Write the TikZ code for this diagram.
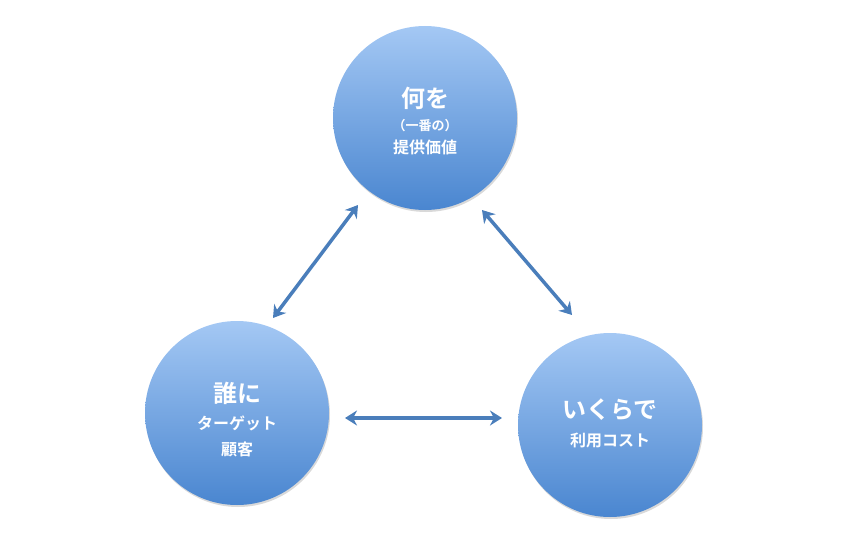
\documentclass[tikz,border=0pt]{standalone}
\usepackage{fontspec}
\setmainfont{Noto Sans CJK JP}[BoldFont={Noto Sans CJK JP Bold}]
\usetikzlibrary{arrows.meta,shadows}
\definecolor{ctop}{HTML}{A4C8F4}
\definecolor{cbot}{HTML}{4A86D0}
\definecolor{arr}{HTML}{4A7EBB}
\begin{document}
\begin{tikzpicture}[x=1pt,y=-1pt,
  ball/.style={circle,minimum size=184pt,top color=ctop,bottom color=cbot,draw=none,
    text=white,font=\bfseries,align=center,inner sep=0pt,
    drop shadow={shadow xshift=1pt,shadow yshift=-2pt,opacity=0.3}},
  big/.style={font=\bfseries\fontsize{24}{30}\selectfont},
  link/.style={arr,line width=3.5pt,{Stealth[length=12pt,width=15pt]}-{Stealth[length=12pt,width=15pt]}}]
\useasboundingbox (0,0) rectangle (845,540);
\node[ball] (top) at (425,118) {};
\node[ball] (left) at (237,413) {};
\node[ball] (right) at (610,425) {};
\node[text=white,font=\bfseries\fontsize{24}{28}\selectfont] (t1) at (425,98) {何を};
\node[text=white,font=\bfseries\fontsize{13}{16}\selectfont] (t2) at (425,126) {（一番の）};
\node[text=white,font=\bfseries\fontsize{16}{20}\selectfont] (t3) at (425,147) {提供価値};
\node[text=white,font=\bfseries\fontsize{24}{28}\selectfont] (l1) at (237,393) {誰に};
\node[text=white,font=\bfseries\fontsize{16}{20}\selectfont] (l2) at (237,423) {ターゲット};
\node[text=white,font=\bfseries\fontsize{16}{20}\selectfont] (l3) at (237,449) {顧客};
\node[text=white,font=\bfseries\fontsize{24}{28}\selectfont] (r1) at (610,410) {いくらで};
\node[text=white,font=\bfseries\fontsize{16}{20}\selectfont] (r2) at (610,440) {利用コスト};
\coordinate (a1) at (358,205); \coordinate (a2) at (273,318);
\coordinate (b1) at (482,210); \coordinate (b2) at (572,315);
\coordinate (c1) at (345,418); \coordinate (c2) at (502,418);
\draw[link] (a1) -- (a2);
\draw[link] (b1) -- (b2);
\draw[link] (c1) -- (c2);
\end{tikzpicture}
\end{document}
